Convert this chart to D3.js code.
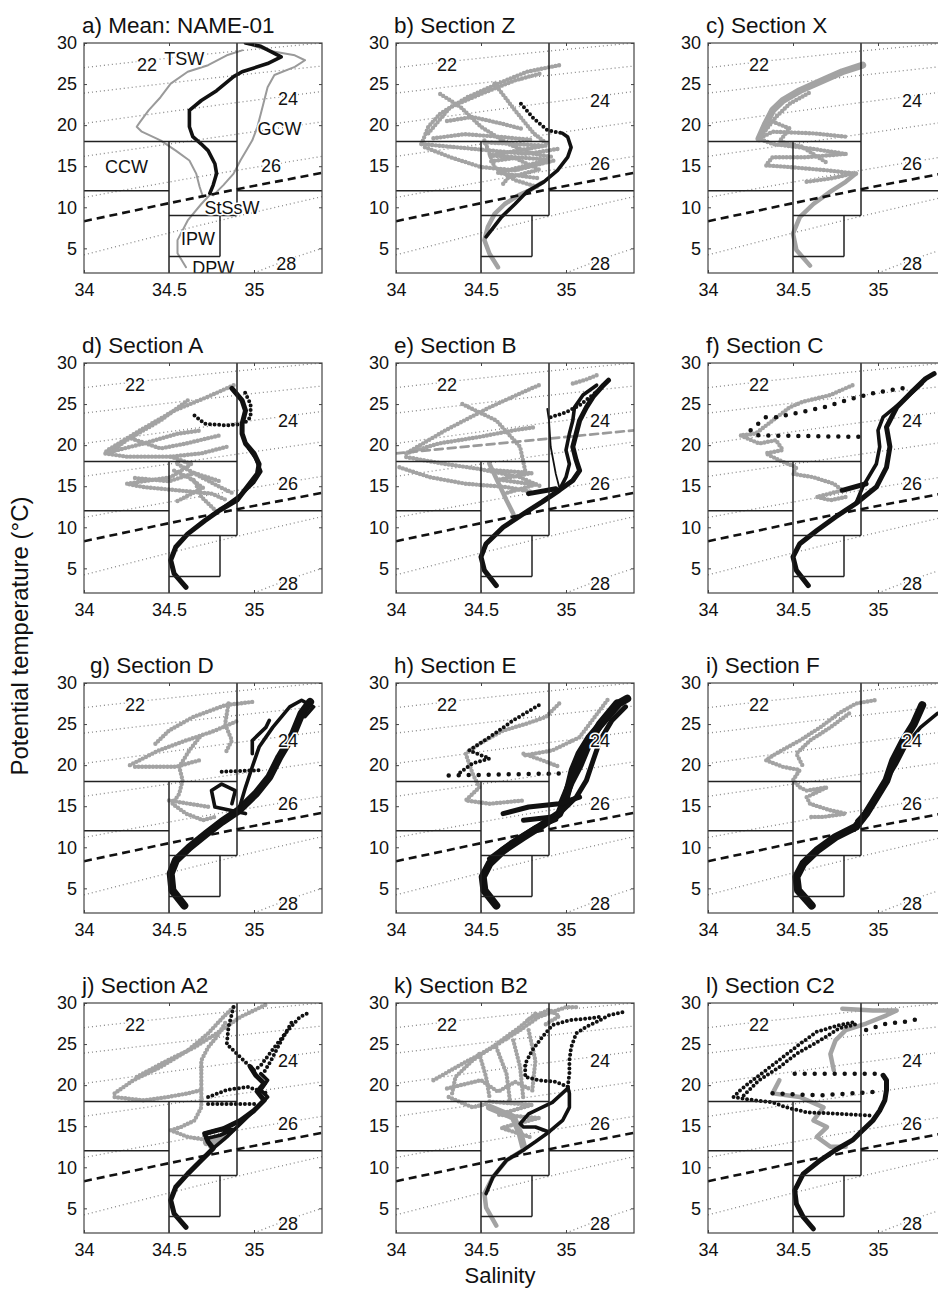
<!DOCTYPE html>
<html>
<head>
<meta charset="utf-8">
<script src="https://cdn.jsdelivr.net/npm/d3@7"></script>
<style>
body { margin: 0; background: #fff; }
text { font-family: "Liberation Sans", Arial, sans-serif; }
</style>
</head>
<body>
<div id="chart"></div>
<script>
// Axis ticks
const xTicks = [34, 34.5, 35];
const yTicks = [5, 10, 15, 20, 25, 30];

// Isopycnals (sigma-theta), [salinity, temperature]
const sig22 = [[34, 27.0], [34.7, 28.6], [35.4, 30.0]];
const sig23 = [[34, 23.9], [34.7, 25.6], [35.4, 27.2]];
const sig24 = [[34, 20.2], [34.7, 22.2], [35.4, 24.1]];
const sig25 = [[34, 16.2], [34.7, 18.3], [35.4, 20.4]];
const sig26 = [[34, 11.2], [34.7, 13.8], [35.4, 16.2]];
const sig27 = [[34, 4.2], [34.7, 7.9], [35.4, 11.3]];
const sig28 = [[35.0, 2.0], [35.2, 3.6], [35.4, 5.0]];
const dashedIso = [[34, 8.3], [34.5, 10.5], [34.9, 12.2], [35.4, 14.2]];

// Water mass boundaries
const boxSegments = [
    [[34, 18], [34.9, 18]],
    [[34.9, 30], [34.9, 9]],
    [[34, 12], [34.5, 12]],
    [[34.9, 12], [35.4, 12]],
    [[34.5, 18], [34.5, 2]],
    [[34.5, 9], [34.9, 9]],
    [[34.8, 9], [34.8, 4]],
    [[34.5, 4], [34.8, 4]]
];

// a) Mean
const aMean = [[34.95,30],[35.04,29.6],[35.16,28.3],[35.08,27.5],[34.93,26.5],[34.88,25.9],[34.78,24.2],[34.69,23.0],[34.62,21.8],[34.62,19.8],[34.64,18.6],[34.69,17.7],[34.73,16.9],[34.77,15.3],[34.78,14.1],[34.76,12.7],[34.74,11.7]];
const aGrayL = [[34.93,29.1],[34.84,28.5],[34.73,27.3],[34.61,26.5],[34.51,25.05],[34.45,23.4],[34.38,21.8],[34.33,20.4],[34.31,19.8],[34.34,19.2],[34.45,18.15],[34.54,16.9],[34.62,15.7],[34.66,14.1],[34.68,12.5],[34.70,11.25]];
const aGrayR = [[34.96,29.9],[35.08,29.1],[35.24,28.5],[35.30,27.9],[35.24,27.1],[35.12,26.1],[35.08,24.6],[35.06,23.0],[35.04,21.4],[35.02,19.8],[34.99,18.15],[34.96,17.1],[34.92,15.7],[34.88,14.1],[34.82,12.7],[34.76,11.45]];
const aDeep = [[34.74,11.5],[34.69,10.4],[34.61,8.4],[34.55,6.0],[34.55,4.4],[34.60,2.7]];

// b) Section Z
const bDeep = [[34.60,2.7],[34.55,4.35],[34.52,6.0],[34.54,7.6],[34.58,9.2],[34.64,10.4],[34.72,11.45],[34.79,12.1],[34.86,13.0]];
const bGray1 = [[34.15,17.7],[34.19,19.8],[34.26,21.4],[34.42,23.4],[34.60,25.05],[34.77,26.5],[34.96,27.3]];
const bGray2 = [[34.19,19.0],[34.32,22.2],[34.50,23.8],[34.70,25.45],[34.85,26.3]];
const bGray3 = [[34.26,23.8],[34.38,22.2],[34.50,19.8],[34.66,17.7],[34.81,16.5],[34.93,16.1]];
const bGray4 = [[34.58,25.05],[34.70,21.8],[34.81,19.0],[34.89,17.7]];
const bGray5 = [[34.15,17.7],[34.36,17.3],[34.56,16.9],[34.77,16.5],[34.95,17.1]];
const bGray6 = [[34.17,17.3],[34.32,16.1],[34.50,14.9],[34.70,14.5],[34.93,15.7]];
const bGray7 = [[34.52,18.15],[34.58,14.9],[34.70,13.3],[34.83,12.5]];
const bGray8 = [[34.52,17.9],[34.88,17.5],[34.55,16.3],[34.90,15.8],[34.60,14.2],[34.85,13.5]];
const bGray9 = [[34.56,15.6],[34.70,16.0],[34.84,14.6],[34.66,13.6],[34.62,12.6]];
const bGray10 = [[34.22,18.4],[34.40,18.9],[34.60,18.6],[34.80,18.2]];
const bGray11 = [[34.30,20.5],[34.45,21.0],[34.62,20.2],[34.75,19.5]];
const bBlack = [[34.98,19.0],[35.01,18.55],[35.03,17.3],[35.01,16.1],[34.95,14.5],[34.87,13.1],[34.77,11.9],[34.70,10.4],[34.62,8.8],[34.56,7.2],[34.53,6.4]];
const bBlackDots = [[34.735,22.6],[34.81,20.8],[34.89,19.4],[34.98,19.0]];

// c) Section X
const cGray1 = [[34.60,2.9],[34.52,4.8],[34.50,6.8],[34.54,8.8],[34.62,10.4],[34.72,11.9],[34.81,13.1],[34.87,14.1]];
const cGray2 = [[34.87,14.1],[34.70,14.5],[34.48,14.9],[34.34,15.1],[34.38,16.1],[34.58,16.1],[34.81,16.5]];
const cGray3 = [[34.81,16.5],[34.62,17.1],[34.38,17.7],[34.30,18.35],[34.38,19.2],[34.62,19.0],[34.81,18.6]];
const cGray4 = [[34.30,18.35],[34.34,20.2],[34.38,21.8],[34.44,23.0],[34.54,24.2],[34.68,25.5],[34.79,26.5],[34.91,27.3]];
const cGray5 = [[34.58,13.1],[34.72,13.5],[34.85,14.1]];
const cGray6 = [[34.36,20.6],[34.48,19.6],[34.42,18.0],[34.55,17.4],[34.70,15.4]];
const cGray7 = [[34.34,19.4],[34.40,21.0],[34.48,22.6],[34.60,24.0]];

// d) Section A
const dBlack = [[34.60,2.7],[34.53,4.35],[34.51,6.0],[34.54,7.6],[34.61,9.2],[34.71,10.8],[34.80,12.1],[34.90,13.3],[34.96,14.9],[35.02,16.5],[35.03,17.7],[35.00,19.0],[34.95,20.2],[34.93,21.4],[34.93,22.6],[34.95,24.2],[34.93,25.45],[34.87,26.9]];
const dBlack2 = [[34.82,12.4],[34.92,13.9],[35.00,15.5],[35.04,16.8],[35.01,18.4],[34.97,19.6]];
const dBlackDots = [[34.65,23.6],[34.71,22.6],[34.84,22.4],[34.94,22.6],[34.98,23.4],[34.98,25.0],[34.94,26.7]];
const dGray1 = [[34.88,27.3],[34.73,25.9],[34.53,24.2],[34.33,21.8],[34.14,19.4],[34.12,19.0],[34.25,18.6],[34.51,18.6],[34.69,19.0],[34.84,19.8]];
const dGray2 = [[34.61,25.45],[34.45,23.0],[34.25,20.6],[34.16,19.2]];
const dGray3 = [[34.14,19.1],[34.35,20.2],[34.55,21.4],[34.69,21.8]];
const dGray4 = [[34.51,18.6],[34.63,17.7],[34.51,16.1],[34.25,15.3],[34.35,14.9],[34.55,14.5],[34.75,14.1],[34.84,13.3]];
const dGray5 = [[34.55,17.7],[34.69,16.1],[34.80,14.9],[34.88,14.1]];
const dGray6 = [[34.53,16.9],[34.65,15.7],[34.69,13.7],[34.78,11.9]];
const dGray7 = [[34.28,20.8],[34.45,19.6],[34.60,20.2],[34.72,20.8],[34.80,21.2]];
const dGray8 = [[34.30,16.0],[34.50,15.6],[34.65,16.6],[34.80,15.6]];
const dGray9 = [[34.55,13.2],[34.70,14.8],[34.62,16.0]];

// e) Section B
const eBlack1 = [[34.59,2.9],[34.52,4.75],[34.50,6.4],[34.53,8.0],[34.63,10.0],[34.75,11.65],[34.86,13.1],[34.96,14.5],[35.04,15.7],[35.08,16.9],[35.06,18.15],[35.04,19.8],[35.06,21.4],[35.08,23.0],[35.12,24.6],[35.16,25.9],[35.22,27.3],[35.25,27.9]];
const eBlack2 = [[34.96,14.5],[35.00,16.1],[35.02,17.7],[35.00,19.4],[35.02,21.4],[35.04,23.0],[35.05,24.6],[35.10,26.1],[35.18,27.3]];
const eBlack3 = [[34.89,24.4],[34.90,23.0],[34.91,19.8],[34.94,16.5],[34.96,14.9]];
const eBlack4 = [[34.78,14.1],[34.94,14.7]];
const eBlackDots = [[34.91,23.4],[35.00,24.0],[35.08,24.85],[35.18,26.5]];
const eGray1 = [[34.84,27.3],[34.73,26.3],[34.55,24.6],[34.29,21.8],[34.06,19.0]];
const eGray2 = [[34.06,19.0],[34.25,20.2],[34.49,21.0],[34.69,21.8],[34.82,22.2]];
const eGray3 = [[34.06,18.55],[34.29,17.7],[34.49,17.1],[34.73,16.1],[34.86,14.9]];
const eGray4 = [[34.02,17.3],[34.20,16.1],[34.41,15.3],[34.65,14.9],[34.80,14.3]];
const eGray5 = [[34.39,25.0],[34.59,23.0],[34.73,19.8],[34.76,16.9]];
const eGray6 = [[34.55,17.7],[34.65,13.3],[34.69,11.65]];
const eGray7 = [[34.55,17.0],[34.80,16.6],[34.60,15.8],[34.82,15.2],[34.62,14.0]];
const eGrayTop = [[35.04,27.5],[35.12,28.0],[35.18,28.5]];
const eGrayDash = [[34, 19.0], [35.4, 21.8]];

// f) Section C
const fBlack1 = [[34.59,2.9],[34.52,4.75],[34.50,6.4],[34.54,8.0],[34.64,9.6],[34.75,11.25],[34.87,12.9],[34.99,14.9],[35.05,17.3],[35.07,19.8],[35.05,22.2],[35.11,24.6],[35.19,26.3],[35.28,28.1],[35.33,28.7]];
const fBlack2 = [[34.87,12.9],[34.91,14.9],[34.99,17.7],[35.01,19.8],[35.00,21.8],[35.03,23.4],[35.15,25.45],[35.26,27.5]];
const fBlack3 = [[34.79,14.5],[34.93,15.3]];
const fBlackDots1 = [[34.40,23.4],[34.54,24.0],[34.68,24.6],[34.82,25.5],[34.97,26.3],[35.09,26.75],[35.19,27.1]];
const fBlackDots2 = [[34.34,23.4],[34.25,21.8],[34.28,21.2],[34.91,21.0]];
const fGray = [[34.85,27.3],[34.72,26.1],[34.56,25.3],[34.48,24.6],[34.38,23.0],[34.28,21.4],[34.19,21.2],[34.30,20.2],[34.40,20.6],[34.44,19.4],[34.34,19.0],[34.42,18.15],[34.52,17.3],[34.50,16.5],[34.62,16.1],[34.74,15.3],[34.79,14.5],[34.64,13.7],[34.72,13.3],[34.81,13.7]];

// g) Section D
const gBlack1 = [[34.59,2.9],[34.52,4.75],[34.51,6.8],[34.54,8.4],[34.62,10.0],[34.72,11.65],[34.81,13.1],[34.91,14.5],[35.01,16.5],[35.09,18.55],[35.15,21.0],[35.23,23.8],[35.28,26.3],[35.33,27.7]];
const gBlack2 = [[34.91,14.5],[34.95,17.3],[34.99,19.8],[35.03,22.2],[35.11,24.6],[35.21,27.1],[35.28,27.9],[35.35,27.1],[35.30,25.9]];
const gBlack3 = [[34.95,14.1],[34.77,14.9],[34.75,16.9],[34.81,17.7],[34.89,16.9],[34.87,15.3]];
const gBlack4 = [[34.99,21.4],[34.99,23.0],[35.07,24.6],[35.09,25.45]];
const gBlackDots = [[34.81,19.2],[35.05,19.4]];
const gGray1 = [[34.27,20.0],[34.44,21.8],[34.60,23.0],[34.77,24.2],[34.91,25.45]];
const gGray2 = [[34.42,22.6],[34.50,24.2],[34.64,25.85],[34.83,27.3],[34.99,27.7]];
const gGray3 = [[34.85,27.5],[34.83,25.0],[34.87,23.0],[34.83,21.4]];
const gGray4 = [[34.68,23.4],[34.62,21.8],[34.56,19.8],[34.58,18.15],[34.56,16.5],[34.52,15.3],[34.60,14.1],[34.70,13.3],[34.77,13.7]];
const gGray5 = [[34.50,15.7],[34.74,14.9]];
const gGrayDots = [[34.30,19.8],[34.54,19.8],[34.68,20.6]];

// h) Section E
const hBlack1 = [[34.59,2.9],[34.52,4.75],[34.51,6.4],[34.55,8.0],[34.63,9.6],[34.75,11.25],[34.86,12.7],[34.96,14.1],[35.00,16.1],[35.02,17.7],[35.04,19.4],[35.08,21.4],[35.14,23.4],[35.24,25.85],[35.31,27.5],[35.36,28.1]];
const hBlack2 = [[34.96,14.1],[35.06,16.1],[35.12,18.15],[35.16,20.6],[35.20,23.0],[35.27,25.45],[35.35,27.1]];
const hBlack3 = [[34.63,14.1],[34.78,14.9],[34.96,15.3],[35.08,16.1]];
const hBlack4 = [[34.75,13.3],[34.92,13.7]];
const hBlack5 = [[34.55,8.6],[34.68,10.6],[34.82,12.4],[34.94,13.4]];
const hBlack6 = [[34.98,15.5],[35.03,18.0],[35.08,20.0],[35.13,22.5],[35.20,25.0],[35.30,27.5]];
const hBlackDots1 = [[34.31,18.75],[35.00,19.0]];
const hBlackDots2 = [[34.84,27.3],[34.69,25.45],[34.55,23.4],[34.43,21.8],[34.55,20.8],[34.45,20.2],[34.37,19.0]];
const hGray1 = [[34.96,27.5],[34.88,25.85],[34.76,25.0],[34.63,24.2],[34.49,22.6],[34.41,21.4],[34.45,19.0],[34.49,17.3],[34.41,15.7],[34.55,15.3],[34.75,15.7]];
const hGray2 = [[34.75,21.4],[34.86,20.6],[34.96,19.8]];
const hGrayDots = [[34.76,21.2],[34.92,21.8],[35.08,23.4],[35.25,28.1]];

// i) Section F
const iBlack1 = [[34.61,2.9],[34.53,4.75],[34.52,6.4],[34.56,8.0],[34.64,9.6],[34.75,11.25],[34.87,12.5],[34.93,14.1],[34.99,16.1],[35.05,18.15],[35.09,20.6],[35.15,23.0],[35.21,25.0],[35.26,27.3]];
const iBlack2 = [[35.05,18.15],[35.11,20.2],[35.17,22.6],[35.25,24.6],[35.35,26.3]];
const iBlack3 = [[34.88,13.2],[34.95,14.6],[35.01,16.8]];
const iGray1 = [[34.98,27.9],[34.87,27.5],[34.77,26.3],[34.66,24.6],[34.54,23.0],[34.40,21.4],[34.34,20.6],[34.44,19.8],[34.54,19.4],[34.50,18.15],[34.54,17.3],[34.58,16.9],[34.70,17.3],[34.58,16.1],[34.60,15.3],[34.72,14.5],[34.81,14.1],[34.68,13.7],[34.60,13.7]];
const iGray2 = [[34.83,26.3],[34.72,24.6],[34.60,23.0],[34.52,21.4],[34.56,19.8]];

// j) Section A2
const jBlack1 = [[34.60,2.7],[34.53,4.35],[34.51,6.0],[34.54,7.6],[34.61,9.2],[34.69,10.85],[34.76,12.3],[34.73,13.1],[34.71,14.1],[34.82,14.7],[34.92,15.7],[35.00,16.9],[35.06,18.15],[35.02,19.2],[35.06,20.2],[35.01,21.2],[34.98,22.2]];
const jBlack2 = [[34.76,12.3],[34.84,13.7],[34.96,16.1],[35.04,17.7],[35.08,18.55],[35.04,19.4],[35.08,20.6],[35.04,21.4]];
const jBlack3 = [[34.71,14.1],[34.78,14.5],[34.88,14.6],[34.80,13.9],[34.72,13.5]];
const jBlackDots1 = [[35.00,21.8],[35.04,22.4],[35.12,24.6],[35.20,26.7],[35.27,28.3],[35.33,28.9]];
const jBlackDots2 = [[34.88,29.5],[34.85,27.1],[34.84,25.0],[34.92,23.4],[35.00,21.8]];
const jBlackDots3 = [[34.73,18.55],[34.84,19.4],[34.96,19.8],[35.08,19.0]];
const jBlackDots4 = [[34.73,17.7],[34.88,17.7],[35.02,17.7]];
const jBlackDots5 = [[35.22,27.6],[35.15,25.0],[35.10,23.0],[35.06,21.6]];
const jGray1 = [[34.18,19.0],[34.29,20.6],[34.45,22.2],[34.61,24.2],[34.73,26.3],[34.82,28.3],[34.88,29.5]];
const jGray2 = [[34.18,18.55],[34.35,18.15],[34.49,18.55],[34.61,19.0],[34.69,19.4],[34.69,21.4],[34.69,23.0],[34.73,24.6],[34.78,25.85],[34.84,27.9]];
const jGray3 = [[34.69,19.4],[34.69,17.3],[34.65,15.7],[34.57,14.9],[34.51,14.5],[34.61,13.7],[34.73,13.3]];
const jGray4 = [[34.31,21.0],[34.49,23.0],[34.65,24.6],[34.78,26.3],[34.92,28.3],[35.08,29.9]];
const jGray5 = [[34.72,13.0],[34.82,13.6],[34.75,12.6]];

// k) Section B2
const kBlack1 = [[34.53,6.8],[34.57,8.8],[34.65,10.85],[34.75,12.1],[34.82,13.1],[34.90,14.3],[34.98,15.7],[35.02,17.3],[35.02,19.0],[35.01,19.8]];
const kBlack2 = [[34.90,14.3],[34.82,14.9],[34.75,14.9],[34.73,15.3],[34.78,16.5],[34.88,17.5],[34.92,17.9],[35.01,19.6]];
const kBlackDots1 = [[35.01,19.8],[35.02,21.4],[35.02,23.0],[35.03,24.6],[35.06,26.3],[35.12,27.1],[35.20,27.9],[35.25,28.5],[35.34,28.9]];
const kBlackDots2 = [[35.01,19.8],[34.94,20.4],[34.84,20.6],[34.76,21.0],[34.76,22.6],[34.80,24.2],[34.86,25.85],[34.92,27.3],[35.02,27.9],[35.12,28.1],[35.20,28.3]];
const kDeep = [[34.59,2.9],[34.53,5.1],[34.52,6.8],[34.57,8.8],[34.65,10.85],[34.75,12.1]];
const kGray1 = [[34.22,20.6],[34.39,22.6],[34.57,24.6],[34.73,26.7],[34.84,28.3],[35.00,29.5],[35.08,29.5]];
const kGray2 = [[34.33,19.0],[34.35,21.0],[34.45,23.0],[34.59,25.0],[34.73,27.1],[34.82,28.7]];
const kGray3 = [[34.49,23.8],[34.53,21.0],[34.55,18.55]];
const kGray4 = [[34.59,24.6],[34.65,21.4],[34.67,18.15]];
const kGray5 = [[34.69,25.45],[34.73,22.2],[34.75,18.15]];
const kGray6 = [[34.78,26.7],[34.82,23.0],[34.80,19.0]];
const kGray7 = [[34.31,18.55],[34.45,17.3],[34.53,17.7]];
const kGray8 = [[34.55,17.3],[34.69,16.1],[34.73,14.1],[34.75,12.5]];
const kGray9 = [[34.55,18.0],[34.80,17.6],[34.60,16.4],[34.84,16.0],[34.62,14.8],[34.80,13.6]];
const kGray10 = [[34.78,28.0],[34.90,29.2],[34.96,28.4],[34.88,27.4]];
const kGray11 = [[34.30,19.6],[34.50,20.6],[34.60,19.2],[34.70,20.4],[34.78,19.6]];

// l) Section C2
const lBlack1 = [[34.62,2.5],[34.56,3.95],[34.52,5.55],[34.51,7.2],[34.56,9.2],[34.66,10.85],[34.75,12.1],[34.85,13.3],[34.91,14.5],[34.97,15.7],[35.01,16.9],[35.04,18.15],[35.05,19.4],[35.05,20.6],[35.03,21.2]];
const lBlack2 = [[34.95,16.3],[34.77,16.5],[34.58,16.7],[34.46,17.3],[34.38,17.9],[34.26,18.2],[34.15,18.55],[34.19,19.4],[34.25,20.4],[34.34,21.8],[34.44,23.4],[34.54,25.0],[34.64,26.5],[34.77,27.3],[34.87,27.7]];
const lBlack3 = [[34.21,18.75],[34.30,20.6],[34.42,22.2],[34.52,23.8],[34.66,25.45],[34.77,26.9],[34.89,27.5]];
const lBlackDots1 = [[34.51,21.4],[35.00,21.4]];
const lBlackDots2 = [[34.38,19.0],[34.66,18.75],[34.99,19.2]];
const lBlackDots3 = [[34.93,26.7],[35.05,27.5],[35.15,27.7],[35.23,28.0]];
const lGray1 = [[34.79,29.3],[34.97,29.1],[35.11,29.1],[35.05,28.5],[34.93,27.5],[34.81,26.7],[34.75,25.45],[34.72,23.8],[34.74,21.8]];
const lGray2 = [[34.42,20.6],[34.38,19.0],[34.54,18.55],[34.68,17.3],[34.62,15.7],[34.70,14.9],[34.64,13.7],[34.72,12.5],[34.81,12.5]];

const aLabels = [["22", 34.37, 27.4], ["TSW", 34.59, 28.1], ["24", 35.2, 23.2], ["GCW", 35.15, 19.6], ["CCW", 34.25, 14.9], ["26", 35.1, 15.1], ["StSsW", 34.87, 10.0], ["IPW", 34.67, 6.2], ["DPW", 34.76, 2.7], ["28", 35.19, 3.1]];
const isoLabels = [["22", 34.3, 27.3], ["24", 35.2, 23.0], ["26", 35.2, 15.3], ["28", 35.2, 3.1]];

const panelTitles = ["a) Mean: NAME-01", "b) Section Z", "c) Section X", "d) Section A", "e) Section B", "f) Section C",
    "g) Section D", "h) Section E", "i) Section F", "j) Section A2", "k) Section B2", "l) Section C2"];

const panelTraces = [
    [[aGrayL, "gt"], [aGrayR, "gt"], [aDeep, "gt"], [aMean, "kl"]],
    [[bDeep, "gl"], [bGray1, "gd"], [bGray2, "gd"], [bGray3, "gd"], [bGray4, "gd"], [bGray5, "gd"], [bGray6, "gd"], [bGray7, "gd"], [bGray8, "gd"], [bGray9, "gd"], [bGray10, "gd"], [bGray11, "gd"], [bBlack, "kl"], [bBlackDots, "kd"]],
    [[cGray1, "gl"], [cGray2, "gd"], [cGray3, "gd"], [cGray4, "gw"], [cGray5, "gd"], [cGray6, "gd"], [cGray7, "gd"]],
    [[dGray1, "gd"], [dGray2, "gd"], [dGray3, "gd"], [dGray4, "gd"], [dGray5, "gd"], [dGray6, "gd"], [dGray7, "gd"], [dGray8, "gd"], [dGray9, "gd"], [dBlack, "kw"], [dBlack2, "kl"], [dBlackDots, "kd"]],
    [[eGray1, "gd"], [eGray2, "gd"], [eGray3, "gd"], [eGray4, "gd"], [eGray5, "gd"], [eGray6, "gl"], [eGray7, "gd"], [eGrayTop, "gd"], [eGrayDash, "gdash"], [eBlack1, "kw"], [eBlack2, "kl"], [eBlack3, "kt"], [eBlack4, "kw"], [eBlackDots, "kd"]],
    [[fGray, "gd"], [fBlack1, "kw"], [fBlack2, "kl"], [fBlack3, "kw"], [fBlackDots1, "kD"], [fBlackDots2, "kD"]],
    [[gGray1, "gd"], [gGray2, "gd"], [gGray3, "gd"], [gGray4, "gd"], [gGray5, "gd"], [gGrayDots, "gd"], [gBlack1, "kW"], [gBlack2, "kl"], [gBlack3, "kl"], [gBlack4, "kl"], [gBlackDots, "kd"]],
    [[hGray1, "gd"], [hGray2, "gd"], [hGrayDots, "gd"], [hBlack1, "kW"], [hBlack2, "kw"], [hBlack6, "kW"], [hBlack3, "kw"], [hBlack4, "kw"], [hBlack5, "kw"], [hBlackDots1, "kD"], [hBlackDots2, "kd"]],
    [[iGray1, "gd"], [iGray2, "gd"], [iBlack1, "kW"], [iBlack2, "kl"], [iBlack3, "kw"]],
    [[jGray1, "gd"], [jGray2, "gd"], [jGray3, "gd"], [jGray4, "gd"], [jGray5, "gw"], [jBlack1, "kw"], [jBlack2, "kl"], [jBlack3, "kl"], [jBlackDots1, "kd"], [jBlackDots2, "kd"], [jBlackDots3, "kd"], [jBlackDots4, "kd"], [jBlackDots5, "kd"]],
    [[kDeep, "gl"], [kGray1, "gd"], [kGray2, "gd"], [kGray3, "gd"], [kGray4, "gd"], [kGray5, "gd"], [kGray6, "gd"], [kGray7, "gd"], [kGray8, "gw"], [kGray9, "gd"], [kGray10, "gd"], [kGray11, "gd"], [kBlack1, "kl"], [kBlack2, "kl"], [kBlackDots1, "kd"], [kBlackDots2, "kd"]],
    [[lGray1, "gl"], [lGray2, "gl"], [lBlack1, "kw"], [lBlack2, "kd"], [lBlack3, "kd"], [lBlackDots1, "kD"], [lBlackDots2, "kD"], [lBlackDots3, "kD"]]
];

const width = 938;
const height = 1290;
const colLeft = [84, 396, 708];
const rowTop = [43, 363, 683, 1003];
const pw = 238, ph = 230;

const styles = {
    gt: { stroke: "#9a9a9a", width: 2, dash: null },
    gl: { stroke: "#a3a3a3", width: 4.5, dash: null },
    gw: { stroke: "#a3a3a3", width: 7, dash: null },
    gd: { stroke: "#a3a3a3", width: 4.4, dash: "0 3.6" },
    gdash: { stroke: "#9a9a9a", width: 2.6, dash: "8 5" },
    kl: { stroke: "#111", width: 3.6, dash: null },
    kw: { stroke: "#111", width: 5, dash: null },
    kW: { stroke: "#111", width: 8, dash: null },
    kt: { stroke: "#111", width: 1.8, dash: null },
    kd: { stroke: "#111", width: 4, dash: "0 4.6" },
    kD: { stroke: "#111", width: 4.5, dash: "0 10" }
};

const svg = d3.select("#chart")
    .append("svg")
    .attr("width", width)
    .attr("height", height)
    .style("background", "#fff");

const x = d3.scaleLinear().domain([34, 35.4]).range([0, pw]);
const y = d3.scaleLinear().domain([2, 30]).range([ph, 0]);
const line = d3.line().x(d => x(d[0])).y(d => y(d[1]));
const smooth = d3.line().x(d => x(d[0])).y(d => y(d[1])).curve(d3.curveMonotoneX);

panelTitles.forEach((title, i) => {
    const col = i % 3, row = Math.floor(i / 3);
    const g = svg.append("g")
        .attr("transform", `translate(${colLeft[col]},${rowTop[row]})`);

    g.append("clipPath").attr("id", "clip" + i)
        .append("rect").attr("width", pw).attr("height", ph);
    const plot = g.append("g").attr("clip-path", `url(#clip${i})`);

    // isopycnals
    [sig22, sig23, sig24, sig25, sig26, sig27, sig28].forEach(s => {
        plot.append("path")
            .attr("d", smooth(s))
            .attr("fill", "none")
            .attr("stroke", "#888")
            .attr("stroke-width", 1.3)
            .attr("stroke-dasharray", "1 3");
    });

    // profiles
    panelTraces[i].forEach(([pts, key]) => {
        const st = styles[key];
        plot.append("path")
            .attr("d", line(pts))
            .attr("fill", "none")
            .attr("stroke", st.stroke)
            .attr("stroke-width", st.width)
            .attr("stroke-linecap", "round")
            .attr("stroke-linejoin", "round")
            .attr("stroke-dasharray", st.dash);
    });

    // water mass boxes
    boxSegments.forEach(s => {
        plot.append("path")
            .attr("d", line(s))
            .attr("stroke", "#222")
            .attr("stroke-width", 1.5);
    });

    plot.append("path")
        .attr("d", line(dashedIso))
        .attr("fill", "none")
        .attr("stroke", "#111")
        .attr("stroke-width", 2.6)
        .attr("stroke-dasharray", "8 5");

    // contour / water mass labels
    const labels = i === 0 ? aLabels : isoLabels;
    plot.selectAll("text.lab")
        .data(labels)
        .enter().append("text")
        .attr("class", "lab")
        .attr("x", d => x(d[1]))
        .attr("y", d => y(d[2]))
        .attr("dy", "0.35em")
        .attr("text-anchor", "middle")
        .attr("font-size", "18px")
        .attr("fill", "#111")
        .attr("stroke", "#fff")
        .attr("stroke-width", 3)
        .attr("paint-order", "stroke")
        .text(d => d[0]);

    // frame and ticks
    g.append("rect")
        .attr("width", pw).attr("height", ph)
        .attr("fill", "none")
        .attr("stroke", "#444")
        .attr("stroke-width", 1.2);

    g.append("g")
        .attr("transform", `translate(0,${ph})`)
        .call(d3.axisBottom(x).tickValues(xTicks).tickSize(-3).tickPadding(10).tickFormat(d3.format("")))
        .call(a => a.select(".domain").remove())
        .call(a => a.selectAll("line").attr("stroke", "#444"))
        .call(a => a.selectAll("text").attr("font-size", "18px").attr("fill", "#111")
            .attr("font-family", "'Liberation Sans', Arial, sans-serif"));

    g.append("g")
        .call(d3.axisTop(x).tickValues(xTicks).tickSize(-3).tickFormat(""))
        .call(a => a.select(".domain").remove())
        .call(a => a.selectAll("line").attr("stroke", "#444"));

    g.append("g")
        .call(d3.axisLeft(y).tickValues(yTicks).tickSize(-3).tickPadding(7))
        .call(a => a.select(".domain").remove())
        .call(a => a.selectAll("line").attr("stroke", "#444"))
        .call(a => a.selectAll("text").attr("font-size", "18px").attr("fill", "#111")
            .attr("font-family", "'Liberation Sans', Arial, sans-serif"));

    g.append("g")
        .attr("transform", `translate(${pw},0)`)
        .call(d3.axisRight(y).tickValues(yTicks).tickSize(-3).tickFormat(""))
        .call(a => a.select(".domain").remove())
        .call(a => a.selectAll("line").attr("stroke", "#444"));

    g.append("text")
        .attr("x", i === 6 ? 6 : -2)
        .attr("y", -10)
        .attr("font-size", "22.5px")
        .attr("fill", "#111")
        .text(title);
});

svg.append("text")
    .attr("transform", "translate(28,636) rotate(-90)")
    .attr("text-anchor", "middle")
    .attr("font-size", "24px")
    .attr("fill", "#111")
    .text("Potential temperature (°C)");

svg.append("text")
    .attr("x", 500)
    .attr("y", 1283)
    .attr("text-anchor", "middle")
    .attr("font-size", "22px")
    .attr("fill", "#111")
    .text("Salinity");
</script>
</body>
</html>
